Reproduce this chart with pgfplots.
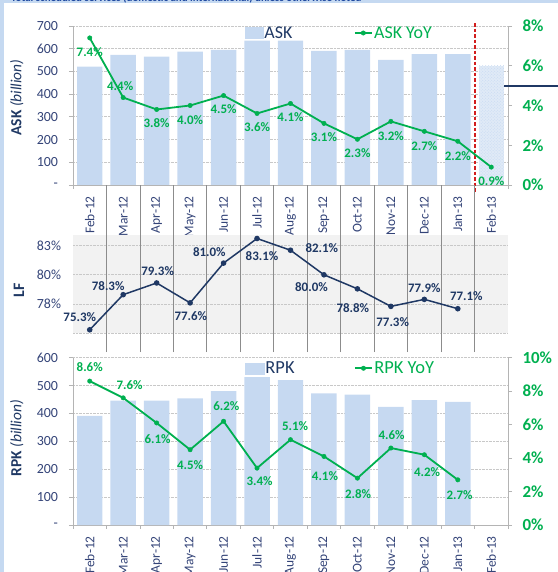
\documentclass[border=0pt]{standalone}
\usepackage{fontspec}
\setmainfont{Carlito}
\usepackage{pgfplots}
\pgfplotsset{compat=1.18}
\usepackage{pgfplotstable}
\usetikzlibrary{patterns}

\definecolor{barblue}{RGB}{198,217,241}
\definecolor{barlight}{RGB}{224,234,247}
\definecolor{ygreen}{RGB}{0,176,80}
\definecolor{navy}{RGB}{31,56,100}
\definecolor{ticknavy}{RGB}{52,68,120}
\definecolor{gridgray}{RGB}{200,200,200}
\definecolor{axgray}{RGB}{180,180,180}
\definecolor{sepgray}{RGB}{140,140,140}
\definecolor{lfbg}{RGB}{242,242,242}
\definecolor{frameblue}{RGB}{197,217,241}
\definecolor{dashred}{RGB}{210,30,30}
\definecolor{titleblue}{RGB}{31,73,160}

\newcommand{\fs}[1]{\fontsize{#1}{#1}\selectfont}

\pgfplotstableread{
x ask
0 521
1 573
2 565
3 587
4 595
5 636
6 636
7 590
8 595
9 551
10 576
11 576
}\askbars

\pgfplotstableread{
x yoy dx dy
0 7.4 0 -14.5
1 4.4 -3 11.7
2 3.8 0 -14
3 4.0 0 -14.5
4 4.5 0 -14
5 3.6 0 -14
6 4.1 0 -14
7 3.1 0 -14
8 2.3 0 -14
9 3.2 0 -14.3
10 2.7 0 -14.3
11 2.2 0 -14.7
12 0.9 0 -14.3
}\askyoy

\pgfplotstableread{
x lf dx dy
0 75.3 -10 12.3
1 78.3 -15 9
2 79.3 1 11.7
3 77.6 0.7 -13.3
4 81.0 -14.2 11
5 83.1 5 -17.3
6 82.1 31.3 2
7 80.0 -12.5 -12.3
8 78.8 -4.6 -19.3
9 77.3 1.8 -16
10 77.9 0 11.7
11 77.1 8.5 12.3
}\lftable

\pgfplotstableread{
x rpk
0 391
1 446
2 446
3 454
4 480
5 530
6 520
7 472
8 468
9 424
10 448
11 442
}\rpkbars

\pgfplotstableread{
x yoy dx dy
0 8.6 0 14
1 7.6 6.4 12.7
2 6.1 1 -15.7
3 4.5 0 -15
4 6.2 2.8 14.7
5 3.4 2.5 -13
6 5.1 4.6 14
7 4.1 1 -19.3
8 2.8 0.7 -16.3
9 4.6 0.7 13.3
10 4.2 2.8 -17.7
11 2.7 1.8 -15.7
}\rpkyoy

\pgfplotsset{
  panel/.style={
    scale only axis, width=435bp,
    xmin=-0.5, xmax=12.5,
    clip=false,
  },
  leftpanel/.style={
    panel,
    axis x line*=bottom, axis y line*=left,
    axis line style={axgray, line width=0.8bp},
    xtick={0,...,12},
    xticklabels={Feb-12,Mar-12,Apr-12,May-12,Jun-12,Jul-12,Aug-12,Sep-12,Oct-12,Nov-12,Dec-12,Jan-13,Feb-13},
    xticklabel style={rotate=90, anchor=east, font=\fs{13.5}, text=ticknavy, inner sep=0pt, inner xsep=7bp},
    xtick style={draw=none},
    ytick style={axgray, line width=0.8bp},
    tick align=outside, major tick length=4bp,
    yticklabel style={font=\fs{14}, text=ticknavy, xshift=-7.5bp},
    ymajorgrids, grid style={gridgray, densely dotted, line width=0.8bp},
    ylabel style={at={(rel axis cs:-0.129,0.55)}, anchor=center, text=navy, font=\fs{15.5}},
  },
  rightpanel/.style={
    panel,
    axis x line=none, axis y line*=right,
    axis line style={axgray, line width=0.8bp},
    ytick style={axgray, line width=0.8bp}, tick align=outside, major tick length=4bp,
    yticklabel style={font=\bfseries\fs{17}, text=ygreen, xshift=7bp},
    legend columns=2, legend cell align=left,
  },
  yoyline/.style={ygreen, line width=1.8bp, mark=*, mark size=2.2bp, mark options={fill=ygreen, draw=ygreen, line width=0.5bp}},
  labeled/.style={
    visualization depends on={\thisrow{dx} \as \ldx},
    visualization depends on={\thisrow{dy} \as \ldy},
    point meta=y,
    nodes near coords={\pgfmathprintnumber[assume math mode=true,fixed,fixed zerofill,precision=1]{\pgfplotspointmeta}\%},
    every node near coord/.append style={anchor=center, xshift=\ldx bp, yshift=\ldy bp, font=\bfseries\fs{13}, inner sep=0pt},
  },
}

\begin{document}
\begin{tikzpicture}
\useasboundingbox (0bp,0bp) rectangle (558bp,572bp);
% frame pieces
\fill[frameblue] (0bp,0bp) rectangle (3.5bp,572bp);
\fill[frameblue] (0bp,569bp) rectangle (558bp,572bp);
\node[anchor=base west, inner sep=0pt, font=\bfseries\fs{11}, text=titleblue] at (11bp,570bp) {Total scheduled services (domestic and international) unless otherwise noted};

% ===== ASK panel =====
\begin{axis}[leftpanel, at={(73bp,387bp)}, anchor=south west, height=159bp,
  ymin=0, ymax=700, ytick={0,100,...,700}, yticklabels={-,100,200,300,400,500,600,700},
  ylabel={\textbf{ASK} \textit{(billion)}}]
\addplot[ybar, bar width=0.76, bar shift=0pt, fill=barblue, draw=none] table[x=x,y=ask]{\askbars};
\addplot[ybar, bar width=0.76, bar shift=0pt, fill=barlight, draw=none, postaction={pattern=crosshatch dots, pattern color=barblue}] coordinates {(12,526)};
\pgfplotsinvokeforeach{-0.5,12.5}{\draw[axgray, line width=0.8bp] (axis cs:#1,0) -- (axis cs:#1,-18);}
\draw[dashred, line width=2bp, dash pattern=on 3.5bp off 2bp] (axis cs:11.5,713) -- (axis cs:11.5,-31);
\end{axis}
\begin{axis}[rightpanel, at={(73bp,387bp)}, anchor=south west, height=159bp,
  ymin=0, ymax=8, ytick={0,2,4,6,8}, yticklabels={0\%,2\%,4\%,6\%,8\%},
  legend style={at={(rel axis cs:0.394,0.956)}, anchor=west, draw=none, fill=none, font=\fs{18}, inner sep=0pt,
    nodes={inner xsep=1.5bp, inner ysep=0pt},
    /tikz/every even column/.append style={column sep=60bp}}]
\addlegendimage{legend image code/.code={\fill[barblue] (0bp,-5.5bp) rectangle (18bp,5.5bp);}}
\addlegendentry{\textcolor{navy}{ASK}}
\addplot[yoyline, labeled, every node near coord/.append style={text=ygreen}] table[x=x,y=yoy]{\askyoy};
\addlegendentry{\textcolor{ygreen}{ASK YoY}}
\end{axis}

% ===== LF panel =====
\begin{axis}[panel, at={(73bp,238.7bp)}, anchor=south west, height=98.3bp,
  ymin=75, ymax=83.4,
  axis line style={draw=none},
  axis background/.style={fill=lfbg},
  xtick=\empty,
  ytick={75,77.5,80,82.5}, yticklabels={,78\%,80\%,83\%},
  major tick length=0pt,
  yticklabel style={font=\fs{14}, text=ticknavy, xshift=-8.5bp},
  ymajorgrids, grid style={gridgray, densely dotted, line width=0.8bp},
  ylabel={\textbf{LF}}, ylabel style={at={(rel axis cs:-0.124,0.44)}, anchor=center, text=navy, font=\fs{16}},
]
\pgfplotsinvokeforeach{0.5,1.5,2.5,3.5,4.5,5.5,6.5,7.5,8.5,9.5,10.5,11.5}{\draw[sepgray, line width=0.8bp] (axis cs:#1,73.4) -- (axis cs:#1,87.67);}
\addplot[navy, line width=1.5bp, mark=*, mark size=2bp, labeled, every node near coord/.append style={text=navy}] table[x=x,y=lf]{\lftable};
\end{axis}

% ===== RPK panel =====
\begin{axis}[leftpanel, at={(73bp,47bp)}, anchor=south west, height=167.3bp,
  ymin=0, ymax=600, ytick={0,100,...,600}, yticklabels={-,100,200,300,400,500,600},
  ylabel={\textbf{RPK} \textit{(billion)}}, ylabel style={at={(rel axis cs:-0.129,0.52)}}]
\addplot[ybar, bar width=0.76, bar shift=0pt, fill=barblue, draw=none] table[x=x,y=rpk]{\rpkbars};
\pgfplotsinvokeforeach{-0.5,0.5,1.5,2.5,3.5,4.5,5.5,6.5,7.5,8.5,9.5,10.5,11.5,12.5}{\draw[axgray, line width=0.8bp] (axis cs:#1,0) -- (axis cs:#1,-15);}
\end{axis}
\begin{axis}[rightpanel, at={(73bp,47bp)}, anchor=south west, height=167.3bp,
  ymin=0, ymax=10, ytick={0,2,4,6,8,10}, yticklabels={0\%,2\%,4\%,6\%,8\%,10\%},
  legend style={at={(rel axis cs:0.394,0.937)}, anchor=west, draw=none, fill=none, font=\fs{18.5}, inner sep=0pt,
    nodes={inner xsep=1.5bp, inner ysep=0pt},
    /tikz/every even column/.append style={column sep=58bp}}]
\addlegendimage{legend image code/.code={\fill[barblue] (0bp,-5.5bp) rectangle (19bp,5.5bp);}}
\addlegendentry{\textcolor{navy}{RPK}}
\addplot[yoyline, labeled, every node near coord/.append style={text=ygreen}] table[x=x,y=yoy]{\rpkyoy};
\addlegendentry{\textcolor{ygreen}{RPK YoY}}
\end{axis}

\draw[navy, line width=2bp] (504bp,486bp) -- (558bp,486bp);
\end{tikzpicture}
\end{document}
